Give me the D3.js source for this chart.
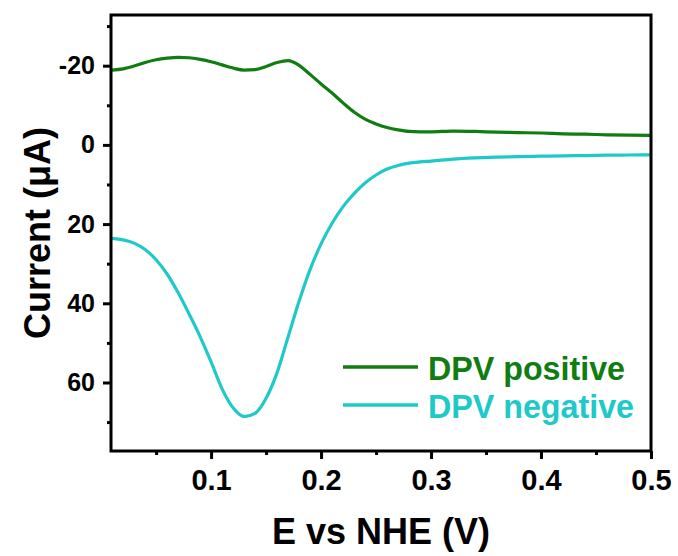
<!DOCTYPE html>
<html>
<head>
<meta charset="utf-8">
<script src="https://cdn.jsdelivr.net/npm/d3@7"></script>
<style>
  html, body { margin: 0; padding: 0; background: #fff; }
  svg { display: block; font-family: "Liberation Sans", Arial, sans-serif; font-weight: bold; }
</style>
</head>
<body>
<svg id="chart" width="678" height="556"></svg>
<script>
// Potential (V vs NHE)
const potentialPos = [0.01, 0.02, 0.03, 0.04, 0.05, 0.06, 0.07, 0.08, 0.09, 0.10,
  0.11, 0.12, 0.13, 0.14, 0.15, 0.16, 0.17, 0.18, 0.19, 0.20,
  0.21, 0.22, 0.23, 0.24, 0.25, 0.26, 0.27, 0.28, 0.29, 0.30,
  0.32, 0.34, 0.36, 0.38, 0.40, 0.42, 0.44, 0.46, 0.48, 0.50];
// DPV positive scan current (µA)
const currentPos = [-18.9, -19.2, -19.9, -20.8, -21.5, -21.9, -22.1, -22.0, -21.6, -21.0,
  -20.2, -19.4, -18.9, -19.0, -19.8, -20.8, -21.3, -20.1, -17.8, -15.4,
  -13.1, -10.6, -8.3, -6.5, -5.3, -4.4, -3.8, -3.4, -3.3, -3.3,
  -3.5, -3.4, -3.2, -3.1, -3.0, -2.8, -2.7, -2.55, -2.45, -2.4];

const potentialNeg = [0.01, 0.02, 0.03, 0.04, 0.05, 0.06, 0.07, 0.08, 0.09, 0.10,
  0.11, 0.12, 0.13, 0.14, 0.15, 0.16, 0.17, 0.18, 0.19, 0.20,
  0.21, 0.22, 0.23, 0.24, 0.25, 0.26, 0.27, 0.28, 0.29, 0.30,
  0.32, 0.34, 0.36, 0.38, 0.40, 0.42, 0.44, 0.46, 0.48, 0.50];
// DPV negative scan current (µA)
const currentNeg = [23.6, 24.0, 24.8, 26.4, 29.0, 32.6, 37.3, 42.7, 48.4, 54.8,
  61.6, 66.4, 68.6, 67.8, 64.0, 57.5, 48.5, 39.5, 31.5, 25.0,
  19.8, 15.6, 12.3, 9.6, 7.6, 6.1, 5.2, 4.6, 4.3, 4.1,
  3.6, 3.3, 3.1, 2.95, 2.85, 2.75, 2.7, 2.6, 2.55, 2.5];

const xTicks = [0.1, 0.2, 0.3, 0.4, 0.5];
const xMinorTicks = [0.05, 0.15, 0.25, 0.35, 0.45];
const yTicks = [-20, 0, 20, 40, 60];
const yMinorTicks = [-30, -10, 10, 30, 50, 70];

const seriesNames = ["DPV positive", "DPV negative"];
const seriesColors = ["#107d10", "#20c9c9"];

const svg = d3.select("#chart");
const plotLeft = 111, plotRight = 651, plotTop = 15, plotBottom = 451;

const x = d3.scaleLinear().domain([0.009, 0.5]).range([plotLeft, plotRight]);
const y = d3.scaleLinear().domain([-32.8, 77.3]).range([plotTop, plotBottom]);

const line = d3.line()
  .x(d => x(d[0]))
  .y(d => y(d[1]))
  .curve(d3.curveMonotoneX);

const series = [
  d3.zip(potentialPos, currentPos),
  d3.zip(potentialNeg, currentNeg)
];

svg.append("clipPath").attr("id", "plot-clip")
  .append("rect").attr("x", plotLeft).attr("y", plotTop)
  .attr("width", plotRight - plotLeft).attr("height", plotBottom - plotTop);

svg.append("g").attr("clip-path", "url(#plot-clip)")
  .selectAll("path").data(series).join("path")
  .attr("d", line)
  .attr("fill", "none")
  .attr("stroke", (d, i) => seriesColors[i])
  .attr("stroke-width", 3.2)
  .attr("stroke-linejoin", "round");

// Bottom axis: major and minor ticks
const xAxis = svg.append("g").attr("transform", `translate(0,${plotBottom})`)
  .call(d3.axisBottom(x).tickValues(xTicks).tickFormat(d3.format(".1f"))
    .tickSize(8).tickPadding(10));
xAxis.select(".domain").remove();
xAxis.selectAll(".tick line").attr("stroke", "#000").attr("stroke-width", 3);
xAxis.selectAll(".tick text").attr("font-size", 29).attr("font-family", "Liberation Sans, Arial, sans-serif")
  .attr("font-weight", "bold").attr("fill", "#000");

const xMinor = svg.append("g").attr("transform", `translate(0,${plotBottom})`)
  .call(d3.axisBottom(x).tickValues(xMinorTicks).tickFormat("").tickSize(4));
xMinor.select(".domain").remove();
xMinor.selectAll(".tick line").attr("stroke", "#000").attr("stroke-width", 3);

// Left axis: major and minor ticks
const yAxis = svg.append("g").attr("transform", `translate(${plotLeft},0)`)
  .call(d3.axisLeft(y).tickValues(yTicks).tickFormat(d => String(d))
    .tickSize(8).tickPadding(8));
yAxis.select(".domain").remove();
yAxis.selectAll(".tick line").attr("stroke", "#000").attr("stroke-width", 3);
yAxis.selectAll(".tick text").attr("font-size", 25).attr("font-family", "Liberation Sans, Arial, sans-serif")
  .attr("font-weight", "bold").attr("fill", "#000");

const yMinor = svg.append("g").attr("transform", `translate(${plotLeft},0)`)
  .call(d3.axisLeft(y).tickValues(yMinorTicks).tickFormat("").tickSize(4));
yMinor.select(".domain").remove();
yMinor.selectAll(".tick line").attr("stroke", "#000").attr("stroke-width", 3);

// Frame
svg.append("rect")
  .attr("x", plotLeft).attr("y", plotTop)
  .attr("width", plotRight - plotLeft).attr("height", plotBottom - plotTop)
  .attr("fill", "none").attr("stroke", "#000").attr("stroke-width", 3);

// Axis titles
svg.append("text")
  .attr("x", (plotLeft + plotRight) / 2).attr("y", 544)
  .attr("text-anchor", "middle")
  .attr("font-size", 36)
  .text("E vs NHE (V)");

svg.append("text")
  .attr("transform", `translate(50,${(plotTop + plotBottom) / 2}) rotate(-90)`)
  .attr("text-anchor", "middle")
  .attr("font-size", 36)
  .text("Current (μA)");

// Legend
const legendRows = [367, 405];
const legend = svg.append("g");
seriesNames.forEach((name, i) => {
  legend.append("line")
    .attr("x1", 343).attr("x2", 418)
    .attr("y1", legendRows[i]).attr("y2", legendRows[i])
    .attr("stroke", seriesColors[i]).attr("stroke-width", 3.5);
  legend.append("text")
    .attr("x", 428).attr("y", legendRows[i] + 13)
    .attr("font-size", 34)
    .attr("fill", seriesColors[i])
    .attr("textLength", i === 0 ? 197 : 206)
    .attr("lengthAdjust", "spacingAndGlyphs")
    .text(name);
});
</script>
</body>
</html>
